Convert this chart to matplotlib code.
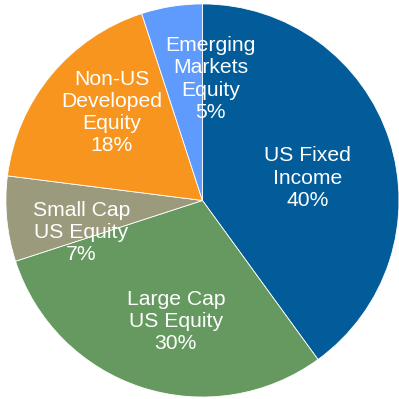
import numpy as np
import matplotlib.pyplot as plt

plt.rcParams['font.family'] = ['Liberation Sans', 'DejaVu Sans']

# asset allocation, clockwise from 12 o'clock
labels = ['US Fixed\nIncome', 'Large Cap\nUS Equity', 'Small Cap\nUS Equity',
          'Non-US\nDeveloped\nEquity', 'Emerging\nMarkets\nEquity']
shares = [40, 30, 7, 18, 5]
colors = ['#015C99', '#65995F', '#9C9A7C', '#F7951F', '#5F9BFC']

# label placement: distance from centre (fraction of radius), angle nudge (deg)
label_r = [0.545, 0.63, 0.637, 0.642, 0.62]
label_nudge = [-6, 5.6, 9.4, -4.6, -12.8]

fig = plt.figure(figsize=(3.99, 3.99), dpi=100)
ax = fig.add_axes([0.0, 0.0, 1.0, 1.0])

wedges, _ = ax.pie(shares, colors=colors, startangle=90, counterclock=False,
                   center=(0.0, 0.0), radius=1.0,
                   wedgeprops=dict(edgecolor='white', linewidth=0.6))

for w, lab, val, r, nd in zip(wedges, labels, shares, label_r, label_nudge):
    ang = np.deg2rad((w.theta1 + w.theta2) / 2 + nd)
    ax.text(r * np.cos(ang), r * np.sin(ang), f'{lab}\n{val}%',
            ha='center', va='center', color='white', fontsize=15.2,
            linespacing=1.22)

ax.set_xlim(-1.03, 1.0)
ax.set_ylim(-1.01, 1.02)
ax.set_aspect('equal')
ax.axis('off')

fig.savefig('out.png', dpi=100)
